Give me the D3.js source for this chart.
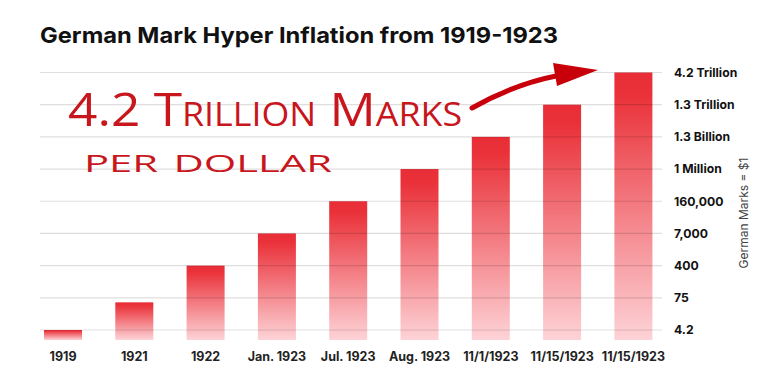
<!DOCTYPE html>
<html><head><meta charset="utf-8">
<script src="https://cdn.jsdelivr.net/npm/d3@7"></script>
<style>
html,body{margin:0;padding:0;background:#fff;}
svg{display:block;}
</style></head>
<body>
<svg id="chart" width="768" height="384"></svg>
<script>
const categories = ["1919","1921","1922","Jan. 1923","Jul. 1923","Aug. 1923","11/1/1923","11/15/1923","11/15/1923"];
const marksPerDollar = [4.2, 50, 400, 7000, 160000, 1e6, 1.3e9, 1.3e12, 4.2e12];
const tickValues = [4.2, 75, 400, 7000, 160000, 1e6, 1.3e9, 1.3e12, 4.2e12];
const tickLabels = ["4.2","75","400","7,000","160,000","1 Million","1.3 Billion","1.3 Trillion","4.2 Trillion"];
const titleText = "German Mark Hyper Inflation from 1919-1923";
const axisTitle = "German Marks = $1";
const noteLines = ["4.2 Trillion Marks", "per dollar"];

const svg = d3.select("#chart");
const gridX0 = 40, gridX1 = 662, barBottom = 340;
const uiFont = "Inter, 'Open Sans', sans-serif";

const x = d3.scaleBand().domain(d3.range(categories.length))
  .range([27.35, 669.05]).paddingInner(0.467).paddingOuter(0.2335);

const yTop = 72.5, yBot = 330;
const y = d3.scaleLog().domain(tickValues)
  .range(tickValues.map((d,i)=> yBot - i*(yBot-yTop)/(tickValues.length-1)));

const defs = svg.append("defs");
const grad = defs.append("linearGradient").attr("id","barGrad")
  .attr("x1",0).attr("y1",0).attr("x2",0).attr("y2",1);
grad.append("stop").attr("offset","0%").attr("stop-color","#e82d36");
grad.append("stop").attr("offset","8%").attr("stop-color","#ea3139");
grad.append("stop").attr("offset","100%").attr("stop-color","#fdd3d7");

// title
svg.append("text").attr("x",40).attr("y",43)
  .attr("font-family",uiFont).attr("font-weight",700)
  .attr("font-size",22).attr("fill","#111")
  .attr("textLength",518).attr("lengthAdjust","spacingAndGlyphs")
  .text(titleText);

// bars
svg.append("g").selectAll("rect").data(marksPerDollar).join("rect")
  .attr("x",(d,i)=>x(i)).attr("width",x.bandwidth())
  .attr("y",d=>y(d)).attr("height",d=>barBottom - y(d))
  .attr("fill","url(#barGrad)");

// gridlines over bars
svg.append("g").selectAll("line").data(tickValues).join("line")
  .attr("x1",gridX0).attr("x2",gridX1)
  .attr("y1",d=>y(d)).attr("y2",d=>y(d))
  .attr("stroke","#000").attr("stroke-opacity",0.13).attr("stroke-width",1.2);

// right axis
const yAxis = d3.axisRight(y).tickValues(tickValues)
  .tickFormat((d,i)=>tickLabels[i]).tickSize(0).tickPadding(0);
const ga = svg.append("g").attr("transform",`translate(674,0)`).call(yAxis);
ga.select(".domain").remove();
ga.selectAll("text").attr("font-family",uiFont)
  .attr("font-weight",700).attr("font-size",12.2).attr("fill","#111");

// bottom axis
const xAxis = d3.axisBottom(x).tickFormat(i=>categories[i]).tickSize(0).tickPadding(0);
const gx = svg.append("g").attr("transform",`translate(0,352)`).call(xAxis);
gx.select(".domain").remove();
gx.selectAll("text").attr("font-family",uiFont)
  .attr("font-weight",700).attr("font-size",12.5).attr("fill","#222");

// axis title
svg.append("text").attr("transform","translate(748,213) rotate(-90)")
  .attr("text-anchor","middle").attr("font-family",uiFont)
  .attr("font-size",12).attr("fill","#444").text(axisTitle);

// handwritten note
const noteFont = "'Open Sans', sans-serif";
svg.append("text").attr("x",68).attr("y",126)
  .attr("font-family",noteFont).attr("font-weight",400).attr("font-size",46)
  .attr("font-variant","small-caps").attr("fill","#c8161d")
  .attr("textLength",394).attr("lengthAdjust","spacingAndGlyphs")
  .text(noteLines[0]);
svg.append("text").attr("x",84).attr("y",172)
  .attr("font-family",noteFont).attr("font-weight",400).attr("font-size",34)
  .attr("font-variant","small-caps").attr("fill","#c8161d")
  .attr("textLength",248).attr("lengthAdjust","spacingAndGlyphs")
  .text(noteLines[1]);

// arrow
svg.append("path").attr("d","M472,108 Q515,84 556,76")
  .attr("fill","none").attr("stroke","#c8000a").attr("stroke-width",5).attr("stroke-linecap","round");
svg.append("path").attr("d","M553,63 L598,70 L557,86 Z").attr("fill","#c8000a");
</script>
</body></html>
